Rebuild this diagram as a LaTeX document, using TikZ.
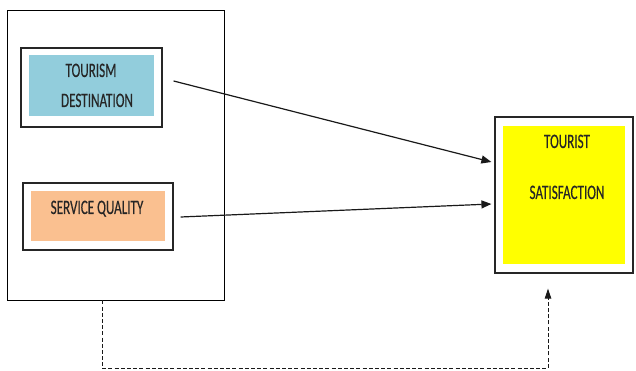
\documentclass[tikz,border=0pt]{standalone}
\usepackage{fontspec}
\newfontfamily\labelfont[FakeStretch=0.64,FakeBold=0.35]{Carlito}
\usetikzlibrary{arrows.meta}
\definecolor{aquafill}{HTML}{92CDDC}
\definecolor{orangefill}{HTML}{FAC090}
\definecolor{yfill}{HTML}{FFFF00}
\definecolor{txt}{HTML}{262626}
\tikzset{
  frame/.style={draw=black, line width=0.9pt, fill=white, rectangle, inner sep=0pt},
  boxborder/.style={draw=black!85, line width=1.2pt, fill=white, rectangle, inner sep=0pt},
  fillbox/.style={rectangle, inner sep=0pt, draw=none},
  lbl/.style={font=\labelfont\fontsize{20.5}{22}\selectfont, text=txt, inner sep=0pt, anchor=base},
  arr/.style={line width=1.2pt, draw=black!90, -{Triangle[length=10pt,width=8pt]}},
  darr/.style={line width=0.9pt, draw=black!90, dash pattern=on 4pt off 2.2pt, -{Triangle[length=10pt,width=6.5pt]}}
}
\begin{document}
\begin{tikzpicture}[x=1pt,y=-1pt]
\useasboundingbox (0,0) rectangle (636,371);
% outer frame
\node[frame, minimum width=217pt, minimum height=290pt] (frm) at (115.5,155) {};
% tourism destination
\node[boxborder, minimum width=141pt, minimum height=79pt] (td) at (91.5,87.5) {};
\node[fillbox, fill=aquafill, minimum width=125pt, minimum height=61pt] (tdf) at (91.5,85.5) {};
\node[lbl] (tdt1) at (91,77) {TOURISM};
\node[lbl] (tdt2) at (97,107) {DESTINATION};
% service quality
\node[boxborder, minimum width=150pt, minimum height=67pt] (sq) at (98,216.5) {};
\node[fillbox, fill=orangefill, minimum width=134pt, minimum height=50pt] (sqf) at (98,216) {};
\node[lbl] (sqt) at (97,214) {SERVICE QUALITY};
% tourist satisfaction
\node[boxborder, minimum width=138pt, minimum height=156pt] (ts) at (564,195) {};
\node[fillbox, fill=yfill, minimum width=122pt, minimum height=138pt] (tsf) at (564,195) {};
\node[lbl] (tst1) at (567,148) {TOURIST};
\node[lbl] (tst2) at (567,199) {SATISFACTION};
% arrows
\draw[arr] ([xshift=11pt,yshift=6.5pt]td.east) -- ([xshift=-3pt,yshift=33pt]ts.west);
\draw[arr] ([xshift=7pt,yshift=-0.5pt]sq.east) -- ([xshift=-3pt,yshift=-9pt]ts.west);
\draw[darr] ([xshift=-13.5pt]frm.south) -- ++(0,68) -| ([xshift=-16pt,yshift=-15pt]ts.south);
\end{tikzpicture}
\end{document}
